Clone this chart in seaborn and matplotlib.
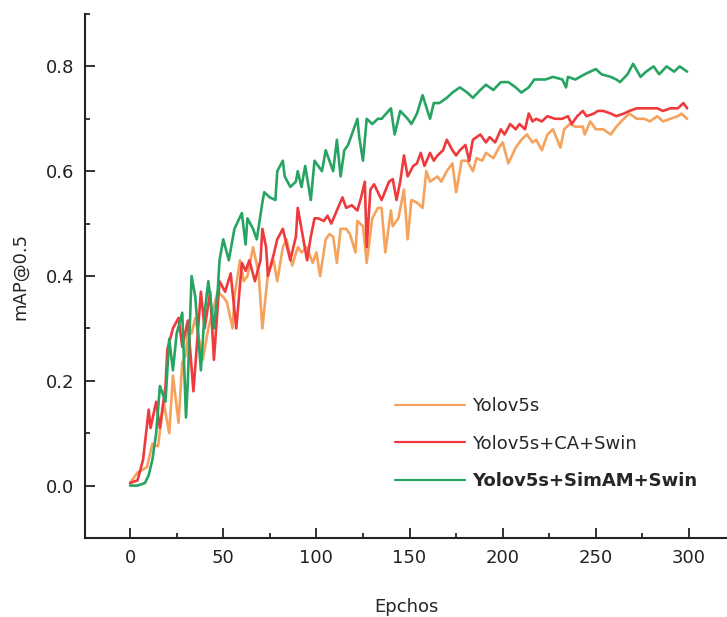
import matplotlib
matplotlib.use("Agg")
import matplotlib.pyplot as plt
from matplotlib.ticker import MultipleLocator
import seaborn as sns
import pandas as pd

# ---- data ----
base_epoch = [0, 4, 9, 12, 15, 18, 21, 23, 26, 28, 30, 31, 33, 35, 39, 42, 47, 50, 52, 55,
              56, 59, 61, 63, 66, 69, 71, 74, 77, 79, 82, 84, 87, 90, 92, 95, 98, 100, 102, 105,
              107, 109, 111, 113, 116, 118, 121, 122, 125, 127, 130, 133, 135, 137, 140, 141, 144, 147, 149, 151,
              154, 157, 159, 161, 165, 167, 170, 173, 175, 178, 181, 184, 186, 189, 191, 195, 198, 200, 203, 207,
              210, 213, 216, 218, 221, 224, 227, 231, 233, 236, 239, 243, 244, 247, 250, 254, 258, 261, 265, 268,
              272, 276, 279, 283, 286, 290, 294, 296, 299]
base_map = [0.005, 0.025, 0.035, 0.08, 0.075, 0.16, 0.10, 0.21, 0.12, 0.235, 0.25, 0.30, 0.29, 0.32, 0.24, 0.30, 0.37, 0.36, 0.35, 0.30,
            0.36, 0.43, 0.39, 0.40, 0.455, 0.405, 0.30, 0.405, 0.43, 0.39, 0.455, 0.47, 0.42, 0.455, 0.445, 0.455, 0.425, 0.445, 0.40, 0.47,
            0.48, 0.475, 0.425, 0.49, 0.49, 0.48, 0.445, 0.505, 0.495, 0.425, 0.51, 0.53, 0.53, 0.445, 0.525, 0.495, 0.51, 0.565, 0.47, 0.545,
            0.54, 0.53, 0.60, 0.58, 0.59, 0.58, 0.60, 0.615, 0.56, 0.62, 0.62, 0.60, 0.625, 0.62, 0.635, 0.625, 0.645, 0.655, 0.615, 0.645,
            0.66, 0.67, 0.655, 0.66, 0.64, 0.67, 0.68, 0.645, 0.68, 0.69, 0.685, 0.685, 0.67, 0.695, 0.68, 0.68, 0.67, 0.685, 0.70, 0.71,
            0.70, 0.70, 0.695, 0.705, 0.695, 0.70, 0.705, 0.71, 0.70]

ca_epoch = [0, 4, 7, 10, 11, 14, 16, 19, 20, 23, 26, 28, 31, 34, 38, 40, 43, 45, 48, 51,
            54, 57, 60, 62, 64, 67, 70, 71, 73, 74, 77, 79, 82, 84, 86, 89, 90, 92, 95, 97,
            99, 101, 104, 106, 108, 111, 114, 116, 119, 122, 124, 126, 127, 129, 131, 135, 139, 141, 143, 145,
            147, 149, 152, 154, 156, 158, 161, 163, 165, 168, 170, 173, 175, 177, 180, 182, 184, 188, 191, 193,
            196, 199, 201, 204, 207, 209, 212, 214, 216, 218, 221, 224, 228, 232, 235, 237, 240, 243, 245, 249,
            251, 254, 258, 261, 265, 268, 272, 276, 279, 283, 286, 290, 294, 297, 299]
ca_map = [0.005, 0.01, 0.05, 0.145, 0.11, 0.16, 0.11, 0.19, 0.26, 0.30, 0.32, 0.265, 0.315, 0.18, 0.37, 0.30, 0.37, 0.24, 0.39, 0.37,
          0.405, 0.30, 0.425, 0.41, 0.43, 0.39, 0.43, 0.49, 0.455, 0.40, 0.44, 0.47, 0.49, 0.46, 0.43, 0.475, 0.53, 0.49, 0.43, 0.475,
          0.51, 0.51, 0.505, 0.515, 0.50, 0.525, 0.55, 0.53, 0.535, 0.525, 0.55, 0.58, 0.455, 0.565, 0.575, 0.545, 0.58, 0.585, 0.545, 0.58,
          0.63, 0.59, 0.61, 0.615, 0.635, 0.61, 0.635, 0.62, 0.63, 0.64, 0.66, 0.64, 0.63, 0.64, 0.65, 0.62, 0.66, 0.67, 0.655, 0.665,
          0.655, 0.68, 0.67, 0.69, 0.68, 0.69, 0.68, 0.71, 0.695, 0.70, 0.695, 0.705, 0.70, 0.70, 0.705, 0.69, 0.705, 0.715, 0.705, 0.71,
          0.715, 0.715, 0.71, 0.705, 0.71, 0.715, 0.72, 0.72, 0.72, 0.72, 0.715, 0.72, 0.72, 0.73, 0.72]

sim_epoch = [0, 4, 8, 10, 12, 14, 16, 19, 21, 23, 25, 28, 30, 31, 33, 35, 38, 40, 42, 45,
             47, 48, 50, 53, 56, 60, 62, 63, 66, 68, 71, 72, 75, 78, 79, 82, 83, 86, 89, 90,
             92, 94, 97, 99, 103, 105, 107, 109, 111, 113, 115, 117, 119, 122, 123, 125, 127, 130, 133, 135,
             140, 142, 145, 149, 151, 154, 157, 161, 163, 166, 170, 173, 177, 181, 184, 188, 191, 195, 199, 203,
             207, 210, 214, 217, 223, 227, 232, 234, 235, 239, 244, 250, 253, 258, 261, 263, 267, 270, 274, 277,
             281, 284, 288, 292, 295, 299]
sim_map = [0.0, 0.0, 0.005, 0.02, 0.05, 0.10, 0.19, 0.16, 0.28, 0.22, 0.29, 0.33, 0.13, 0.20, 0.40, 0.36, 0.22, 0.33, 0.39, 0.30,
           0.37, 0.43, 0.47, 0.43, 0.49, 0.52, 0.46, 0.51, 0.49, 0.47, 0.54, 0.56, 0.55, 0.545, 0.60, 0.62, 0.59, 0.57, 0.58, 0.60,
           0.57, 0.61, 0.545, 0.62, 0.60, 0.64, 0.62, 0.60, 0.66, 0.59, 0.64, 0.65, 0.67, 0.70, 0.665, 0.62, 0.70, 0.69, 0.70, 0.70,
           0.72, 0.67, 0.715, 0.70, 0.69, 0.71, 0.745, 0.70, 0.73, 0.73, 0.74, 0.75, 0.76, 0.75, 0.74, 0.755, 0.765, 0.755, 0.77, 0.77,
           0.76, 0.75, 0.76, 0.775, 0.775, 0.78, 0.775, 0.76, 0.78, 0.775, 0.785, 0.795, 0.785, 0.78, 0.775, 0.77, 0.785, 0.805, 0.78, 0.79,
           0.80, 0.785, 0.80, 0.79, 0.80, 0.79]

models = ["Yolov5s", "Yolov5s+CA+Swin", "Yolov5s+SimAM+Swin"]
colors = ["#F5A35C", "#EF3A3D", "#27A463"]
x_ticks = [0, 50, 100, 150, 200, 250, 300]
y_ticks = [0.0, 0.2, 0.4, 0.6, 0.8]

df = pd.concat([
    pd.DataFrame({"Epchos": base_epoch, "mAP@0.5": base_map, "model": models[0]}),
    pd.DataFrame({"Epchos": ca_epoch, "mAP@0.5": ca_map, "model": models[1]}),
    pd.DataFrame({"Epchos": sim_epoch, "mAP@0.5": sim_map, "model": models[2]}),
], ignore_index=True)

sns.set_style("ticks")
plt.rcParams["font.family"] = ["DejaVu Sans"]

fig = plt.figure(figsize=(7.27, 6.17), dpi=100)
ax = fig.add_axes([85 / 727, 1 - 538 / 617, 1 - 85 / 727, (538 - 14) / 617])

sns.lineplot(data=df, x="Epchos", y="mAP@0.5", hue="model", hue_order=models,
             palette=dict(zip(models, colors)), linewidth=1.9, ax=ax, estimator=None,
             sort=True)

ax.set_xlim(-24.2, 320.4)
ax.set_ylim(-0.1, 0.9)
ax.set_xticks(x_ticks)
ax.set_yticks(y_ticks)
ax.set_yticklabels([f"{v:.1f}" for v in y_ticks])
ax.xaxis.set_minor_locator(MultipleLocator(25))
ax.yaxis.set_minor_locator(MultipleLocator(0.1))
ax.tick_params(which="major", direction="in", length=7, width=1.3, labelsize=13, pad=8, colors="#222222")
ax.tick_params(which="minor", direction="in", length=3.5, width=1.3)
for s in ["top", "right"]:
    ax.spines[s].set_visible(False)
for s in ["left", "bottom"]:
    ax.spines[s].set_linewidth(1.5)
    ax.spines[s].set_color("#222222")

ax.set_xlabel("Epchos", fontsize=13, labelpad=22)
ax.set_ylabel("mAP@0.5", fontsize=13, labelpad=12)

leg = ax.legend(loc="upper left", bbox_to_anchor=(0.457, 0.30), frameon=False,
                fontsize=13, handlelength=3.9, handletextpad=0.4, labelspacing=1.08)
for line in leg.get_lines():
    line.set_linewidth(1.6)
leg.get_texts()[2].set_fontweight("bold")

fig.savefig("out.png", dpi=100)
